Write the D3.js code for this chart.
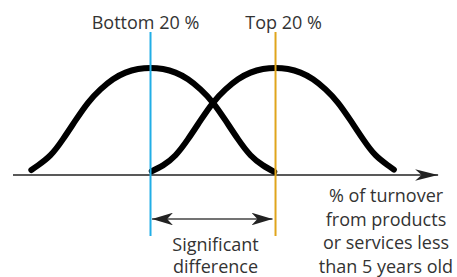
<!DOCTYPE html>
<html>
<head>
<meta charset="utf-8">
<script src="https://cdn.jsdelivr.net/npm/d3@7"></script>
<style>
  body { margin: 0; background: #fff; }
  svg { display: block; }
  text { font-family: "Open Sans", sans-serif; font-size: 18px; fill: #333; }
</style>
</head>
<body>
<svg id="chart" width="457" height="277"></svg>
<script>
// groups and where they sit on the turnover axis
const groups = ["Bottom 20 %", "Top 20 %"];
const groupCenters = [30, 60];

// bell curves (x: turnover units, y: relative frequency)
const bottomCurveX = [1.4, 3, 6, 9, 12, 15, 18, 21, 24, 27, 30, 33, 36, 39, 42, 45, 48, 51, 54, 57, 59.7];
const bottomCurveY = [0.047, 0.09, 0.185, 0.335, 0.51, 0.675, 0.8, 0.895, 0.957, 0.99, 1, 0.99, 0.957, 0.895, 0.8, 0.675, 0.51, 0.335, 0.185, 0.09, 0.03];
const topCurveX = [30.3, 33, 36, 39, 42, 45, 48, 51, 54, 57, 60, 63, 66, 69, 72, 75, 78, 81, 84, 87, 88.4];
const topCurveY = [0.035, 0.09, 0.185, 0.335, 0.51, 0.675, 0.8, 0.895, 0.957, 0.99, 1, 0.99, 0.957, 0.895, 0.8, 0.675, 0.51, 0.335, 0.185, 0.09, 0.05];

const axisExtent = [-3, 99.5];
const axisTitle = ["% of turnover", "from products", "or services less", "than 5 years old"];
const gapLabel = ["Significant", "difference"];

const svg = d3.select("#chart");

const x = d3.scaleLinear().domain([0, 100]).range([25.5, 442.2]);
const y = d3.scaleLinear().domain([0, 1]).range([175, 68]);

const markerColors = ["#22aee6", "#e0a51c"];

// arrowheads
const defs = svg.append("defs");
function arrowMarker(id, len, half) {
  defs.append("marker")
    .attr("id", id)
    .attr("viewBox", `${-len} ${-half} ${len} ${half * 2}`)
    .attr("refX", 0).attr("refY", 0)
    .attr("markerUnits", "userSpaceOnUse")
    .attr("markerWidth", len).attr("markerHeight", half * 2)
    .attr("orient", "auto-start-reverse")
    .append("path")
    .attr("d", `M0,0L${-len},${-half}L${-len * 0.72},0L${-len},${half}Z`)
    .attr("fill", "#222");
}
arrowMarker("axisHead", 23, 5.8);
arrowMarker("gapHead", 21, 6.3);

// x axis line with arrow
svg.append("line")
  .attr("x1", x(axisExtent[0])).attr("x2", x(axisExtent[1]) - 2)
  .attr("y1", y(0)).attr("y2", y(0))
  .attr("stroke", "#222").attr("stroke-width", 1.3)
  .attr("marker-end", "url(#axisHead)");

// curves
const line = d3.line()
  .x(d => x(d[0]))
  .y(d => y(d[1]))
  .curve(d3.curveNatural);

const curves = [
  d3.zip(bottomCurveX, bottomCurveY),
  d3.zip(topCurveX, topCurveY)
];

svg.selectAll("path.bell")
  .data(curves)
  .join("path")
  .attr("class", "bell")
  .attr("d", line)
  .attr("fill", "none")
  .attr("stroke", "#000")
  .attr("stroke-width", 6)
  .attr("stroke-linecap", "round")
  .attr("stroke-linejoin", "round");

// group marker lines
svg.selectAll("line.marker")
  .data(groupCenters)
  .join("line")
  .attr("class", "marker")
  .attr("x1", d => x(d)).attr("x2", d => x(d))
  .attr("y1", 32).attr("y2", 236)
  .attr("stroke", (d, i) => markerColors[i])
  .attr("stroke-width", 2);

// group labels
const labelShift = [-5, 8];
svg.selectAll("text.group")
  .data(groups)
  .join("text")
  .attr("class", "group")
  .attr("x", (d, i) => x(groupCenters[i]) + labelShift[i])
  .attr("y", 29)
  .attr("text-anchor", "middle")
  .text(d => d);

// significant difference arrow
const gapMid = (x(groupCenters[0]) + x(groupCenters[1])) / 2 + 2.5;
svg.append("line")
  .attr("x1", x(groupCenters[0]) + 1.5).attr("x2", x(groupCenters[1]) - 3)
  .attr("y1", 219).attr("y2", 219)
  .attr("stroke", "#444").attr("stroke-width", 1.4)
  .attr("marker-start", "url(#gapHead)")
  .attr("marker-end", "url(#gapHead)");

svg.append("text")
  .attr("y", 251)
  .attr("text-anchor", "middle")
  .selectAll("tspan")
  .data(gapLabel)
  .join("tspan")
  .attr("x", gapMid)
  .attr("dy", (d, i) => i ? 22 : 0)
  .text(d => d);

// axis title
svg.append("text")
  .attr("y", 202)
  .attr("text-anchor", "middle")
  .selectAll("tspan")
  .data(axisTitle)
  .join("tspan")
  .attr("x", 386)
  .attr("dy", (d, i) => i ? 23.7 : 0)
  .text(d => d);
</script>
</body>
</html>
